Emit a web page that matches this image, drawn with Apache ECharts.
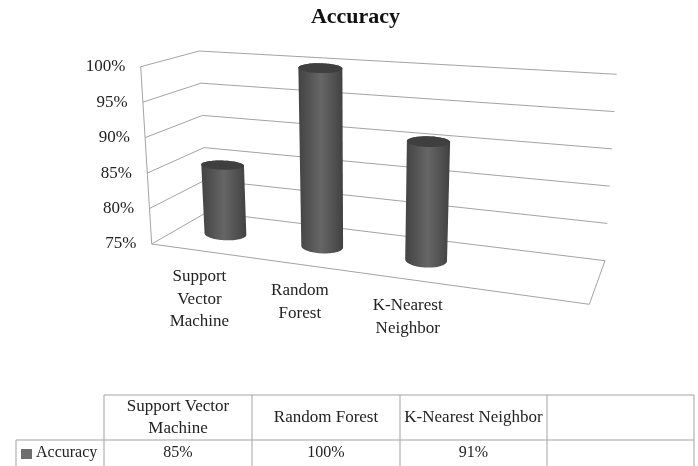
<!DOCTYPE html>
<html>
<head>
<meta charset="utf-8">
<style>html,body{margin:0;padding:0;background:#fff}#chart{width:698px;height:466px}</style>
<script src="https://cdn.jsdelivr.net/npm/echarts@6/dist/echarts.min.js"></script>
</head>
<body>
<div id="chart"></div>
<script>
// Values of the chart
const categories = ['Support Vector Machine', 'Random Forest', 'K-Nearest Neighbor', ''];
const accuracy = [85, 100, 91];
const yTicks = [75, 80, 85, 90, 95, 100];
const axisNames = ['Support\nVector\nMachine', 'Random\nForest', 'K-Nearest\nNeighbor'];
const headerNames = ['Support Vector\nMachine', 'Random Forest', 'K-Nearest Neighbor', ''];
const seriesName = 'Accuracy';

const SERIF = '"Liberation Serif", serif';
const INK = '#222';
const RULE = '#a3a3a3';

// Box corners on screen: [front/back][left/right][bottom/top]
const box = {
  fl0: [151.7, 244],   fl1: [140.7, 66.7],
  fr0: [589.3, 304.3], fr1: [603.5, 98],
  bl0: [207.3, 212],   bl1: [199.3, 51],
  br0: [605, 260.7],   br1: [616.7, 74.3]
};
const VIEW_K = 0.865;   // foreshortening along the width of the box
const lerp = (a, b, t) => a + (b - a) * t;
const warpU = u => VIEW_K * u / (1 - u + VIEW_K * u);

// Box coordinates to screen: u along width (warped), v along height, w along depth
function place(uw, v, w) {
  const at = k => {
    const f0 = lerp(box.fl0[k], box.fr0[k], uw), f1 = lerp(box.fl1[k], box.fr1[k], uw);
    const b0 = lerp(box.bl0[k], box.br0[k], uw), b1 = lerp(box.bl1[k], box.br1[k], uw);
    return lerp(lerp(f0, b0, w), lerp(f1, b1, w), v);
  };
  return [at(0), at(1)];
}

// Flat grid pixels, from the axes, into box fractions
function toBox(pt, cs) {
  return [warpU((pt[0] - cs.x) / cs.width), (cs.y + cs.height - pt[1]) / cs.height];
}

const GRID = { left: 140, top: 66.7, width: 465, height: 177.3 };
const tickKey = v => 't' + v;
const LABEL_GAP = 15.3;
const tickRich = {};
yTicks.forEach((v, i) => {
  const edge = place(0, i / (yTicks.length - 1), 0)[0];
  tickRich[tickKey(v)] = {
    fontFamily: SERIF, fontSize: 17, color: INK,
    padding: [0, LABEL_GAP - (edge - GRID.left), 0, 0]
  };
});

function renderWalls(params, api) {
  const val = api.value(1);
  const cs = params.coordSys;
  const v = toBox(api.coord([categories[0], val]), cs)[1];
  const a = place(0, v, 0), b = place(0, v, 1), c = place(1, v, 1);
  return {
    type: 'polyline',
    shape: { points: [a, b, c] },
    style: { stroke: RULE, lineWidth: 1, fill: null }
  };
}

function renderFrame(params, api) {
  const pts = [place(0, 1, 0), place(0, 0, 0), place(1, 0, 0), place(1, 0, 1)];
  return {
    type: 'polyline',
    shape: { points: pts },
    style: { stroke: RULE, lineWidth: 1, fill: null }
  };
}

const R_U = 0.05, R_W = 0.19;
const TILT = 0.3;       // the round ends sit flatter than the floor slope
const CAP_FLATTEN = 0.72;
function ellipseAt(uc, v, ryScale) {
  const c = place(uc, v, 0.5);
  const e = place(uc + R_U, v, 0.5);
  const rx = e[0] - c[0], tilt = (e[1] - c[1]) * TILT;
  const f = place(uc, 0, 0.5);
  const ry = Math.abs(place(uc, 0, 0.5 + R_W)[1] - f[1]) * ryScale;
  return t => [c[0] + rx * Math.cos(t), c[1] + tilt * Math.cos(t) + ry * Math.sin(t)];
}

function renderCylinder(params, api) {
  const cs = params.coordSys;
  const floor = toBox(api.coord([api.value(0), yTicks[0]]), cs);
  const top = toBox(api.coord([api.value(0), api.value(1)]), cs);
  const N = 40;
  const capAt = ellipseAt(floor[0], top[1], CAP_FLATTEN), baseAt = ellipseAt(floor[0], 0, 1);
  const body = [], cap = [];
  for (let i = 0; i <= N; i++) body.push(capAt(Math.PI + Math.PI * i / N));
  for (let i = 0; i <= N; i++) body.push(baseAt(Math.PI * i / N));
  for (let i = 0; i < 2 * N; i++) cap.push(capAt(Math.PI * i / N));
  const shade = new echarts.graphic.LinearGradient(0, 0, 1, 0, [
    { offset: 0, color: '#434343' },
    { offset: 0.2, color: '#505050' },
    { offset: 0.5, color: '#666666' },
    { offset: 0.8, color: '#505050' },
    { offset: 1, color: '#414141' }
  ]);
  return {
    type: 'group',
    children: [
      { type: 'polygon', shape: { points: body }, style: { fill: shade } },
      { type: 'polygon', shape: { points: cap }, style: { fill: '#3f3f3f' } }
    ]
  };
}

function renderCatLabel(params, api) {
  const cs = params.coordSys;
  const at = toBox(api.coord([api.value(0), yTicks[0]]), cs);
  const p = place(at[0], 0, 0);
  return {
    type: 'text',
    style: {
      text: axisNames[params.dataIndex], x: p[0] - 4 * at[0], y: p[1] + 15,
      align: 'center', verticalAlign: 'top',
      font: '17px ' + SERIF, lineHeight: 22.5, fill: INK
    }
  };
}

// Data table under the chart
const T = { cols: [104, 252, 400, 547, 694], left: 16, top: 395, mid: 440, bottom: 466 };
const tableParts = [];
const tLine = (x1, y1, x2, y2) => tableParts.push({
  type: 'line', shape: { x1, y1, x2, y2 }, style: { stroke: RULE, lineWidth: 1 }, silent: true
});
const tText = (text, x, y, size, align) => tableParts.push({
  type: 'text', silent: true,
  style: { text, x, y, align: align || 'center', verticalAlign: 'middle', font: size + 'px ' + SERIF, lineHeight: 22.5, fill: INK }
});
tLine(T.cols[0], T.top, T.cols[4], T.top);
tLine(T.left, T.mid, T.cols[4], T.mid);
tLine(T.left, T.mid, T.left, T.bottom);
T.cols.forEach(x => tLine(x, T.top, x, T.bottom));
headerNames.forEach((name, i) => {
  const mid = (T.cols[i] + T.cols[i + 1]) / 2;
  if (name) tText(name, mid, (T.top + T.mid) / 2, 17);
  if (i < accuracy.length) tText(accuracy[i] + '%', mid, (T.mid + T.bottom) / 2, 16);
});
tableParts.push({
  type: 'rect', silent: true, shape: { x: 21, y: 449, width: 11, height: 10 }, style: { fill: '#6e6e6e' }
});
tText(seriesName, 36, (T.mid + T.bottom) / 2, 16, 'left');

const chart = echarts.init(document.getElementById('chart'), null, { renderer: 'canvas' });
chart.setOption({
  animation: false,
  backgroundColor: '#fff',
  title: {
    text: seriesName, left: 355.5, top: 6, textAlign: 'center', padding: 0,
    textStyle: { fontFamily: SERIF, fontWeight: 'bold', fontSize: 22, color: '#111' }
  },
  grid: GRID,
  xAxis: { type: 'category', data: categories, show: false },
  yAxis: {
    type: 'value', min: 75, max: 100, interval: 5,
    axisLine: { show: false }, axisTick: { show: false }, splitLine: { show: false },
    axisLabel: { margin: 0, formatter: v => '{' + tickKey(v) + '|' + v + '%}', rich: tickRich }
  },
  series: [
    { type: 'custom', name: 'walls', renderItem: renderWalls, clip: false, silent: true, z: 1,
      data: yTicks.map(v => [categories[0], v]) },
    { type: 'custom', name: 'frame', renderItem: renderFrame, clip: false, silent: true, z: 1,
      data: [[categories[0], yTicks[0]]] },
    { type: 'custom', name: seriesName, renderItem: renderCylinder, clip: false, z: 3,
      data: accuracy.map((v, i) => [categories[i], v]) },
    { type: 'custom', name: 'names', renderItem: renderCatLabel, clip: false, silent: true, z: 4,
      data: accuracy.map((v, i) => [categories[i], yTicks[0]]) }
  ],
  graphic: { elements: tableParts }
});
</script>
</body>
</html>
